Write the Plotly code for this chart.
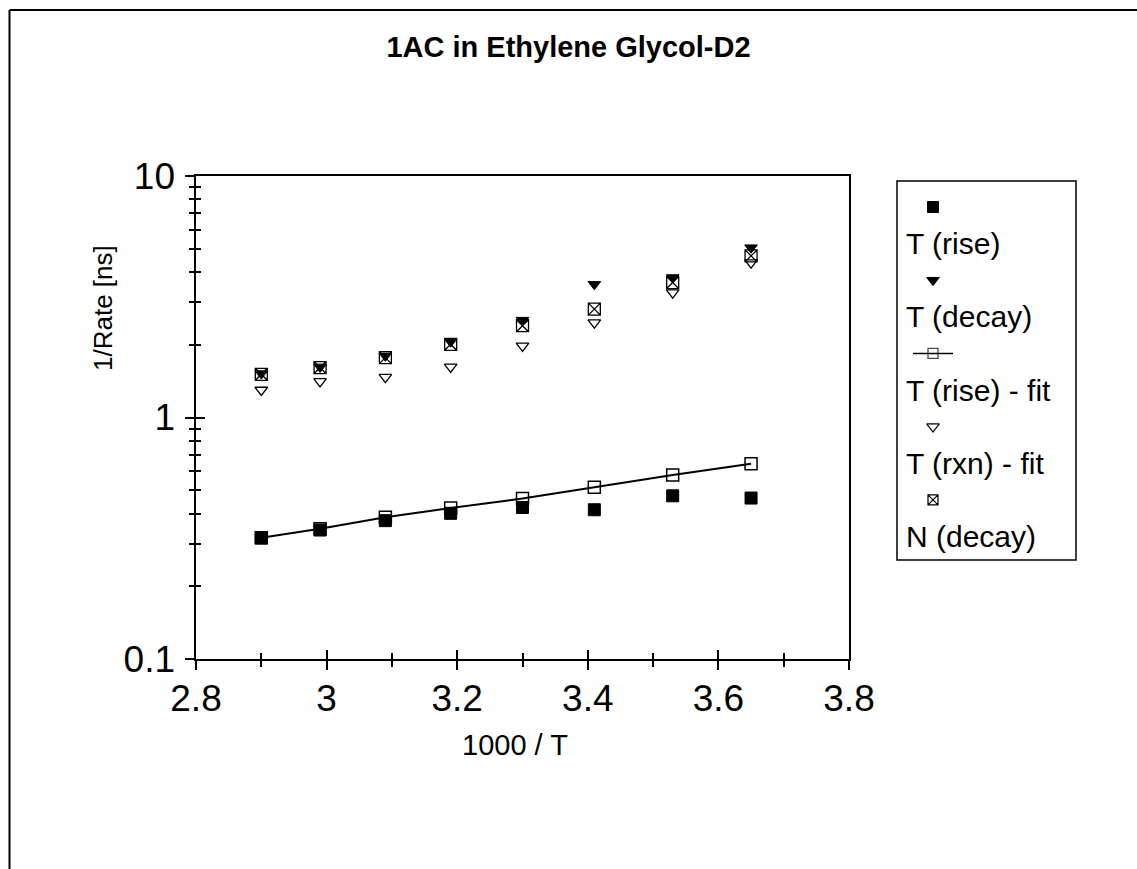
import plotly.graph_objects as go

# ---------------- data ----------------
inv_T = [2.90, 2.99, 3.09, 3.19, 3.30, 3.41, 3.53, 3.65]
t_rise = [0.317, 0.342, 0.374, 0.401, 0.424, 0.415, 0.474, 0.464]
t_decay = [1.52, 1.62, 1.80, 2.06, 2.53, 3.56, 3.80, 5.05]
t_rise_fit = [0.318, 0.346, 0.386, 0.422, 0.462, 0.514, 0.578, 0.643]
t_rxn_fit = [1.30, 1.41, 1.47, 1.62, 1.98, 2.47, 3.29, 4.38]
n_decay = [1.51, 1.61, 1.77, 2.01, 2.40, 2.81, 3.62, 4.67]

series_names = ["T (rise)", "T (decay)", "T (rise) - fit", "T (rxn) - fit", "N (decay)"]
x_ticks = [2.8, 3.0, 3.2, 3.4, 3.6, 3.8]
x_ticktext = ["2.8", "3", "3.2", "3.4", "3.6", "3.8"]
y_ticks = [0.1, 1, 10]
y_ticktext = ["0.1", "1", "10"]
y_minor = [0.2, 0.3, 0.4, 0.5, 0.6, 0.7, 0.8, 0.9, 2, 3, 4, 5, 6, 7, 8, 9]

FONT = "Liberation Sans, Arial, sans-serif"
W, H = 1137, 869

def px_x(p):
    return p / W

def px_y(p):
    return 1 - p / H

# plot area in pixels
PL, PR, PT, PB = 196, 849, 176, 659
xdom = [px_x(PL), px_x(PR)]
ydom = [px_y(PB), px_y(PT)]

fig = go.Figure()

styles = [
    dict(mode="markers", marker=dict(symbol="square", size=12, color="black",
                                      line=dict(color="black", width=1))),
    dict(mode="markers", marker=dict(symbol="triangle-down", size=11, color="black",
                                      line=dict(color="black", width=1))),
    dict(mode="lines+markers", line=dict(color="black", width=2),
         marker=dict(symbol="square-open", size=12, color="black",
                     line=dict(color="black", width=1.5))),
    dict(mode="markers", marker=dict(symbol="triangle-down-open", size=11, color="black",
                                      line=dict(color="black", width=1.3))),
    dict(mode="markers", marker=dict(symbol="square-x-open", size=12, color="black",
                                      line=dict(color="black", width=1.3))),
]
data = [t_rise, t_decay, t_rise_fit, t_rxn_fit, n_decay]

for name, ys, st in zip(series_names, data, styles):
    fig.add_trace(go.Scatter(x=inv_T, y=ys, name=name, showlegend=False,
                             xaxis="x", yaxis="y", **st))

# ---------------- custom legend (symbol above text, as in the original) ----
LL, LR, LT, LB = 897, 1076, 181, 560
sym_x = 36
row = 36.6
leg_styles = [
    dict(mode="markers", marker=dict(symbol="square", size=11, color="black",
                                      line=dict(color="black", width=1))),
    dict(mode="markers", marker=dict(symbol="triangle-down", size=11, color="black",
                                      line=dict(color="black", width=1))),
    dict(mode="lines+markers", line=dict(color="black", width=1.5),
         marker=dict(symbol="square-open", size=10, color="black",
                     line=dict(color="black", width=1.3))),
    dict(mode="markers", marker=dict(symbol="triangle-down-open", size=11, color="black",
                                      line=dict(color="black", width=1.2))),
    dict(mode="markers", marker=dict(symbol="square-x-open", size=10, color="black",
                                      line=dict(color="black", width=1.2))),
]
for i, (name, st) in enumerate(zip(series_names, leg_styles)):
    yy = 26 + 2 * i * row
    if st["mode"] == "lines+markers":
        xs, ys = [sym_x - 20, sym_x, sym_x + 20], [yy, yy, yy]
        st = dict(st)
        st["marker"] = dict(st["marker"])
        st["marker"]["size"] = [0, 10, 0]
    else:
        xs, ys = [sym_x], [yy]
    fig.add_trace(go.Scatter(x=xs, y=ys, showlegend=False, hoverinfo="skip",
                             xaxis="x3", yaxis="y3", **st))
    fig.add_annotation(x=7, y=yy + row, xref="x3", yref="y3", text=name,
                       showarrow=False, xanchor="left", yanchor="middle",
                       font=dict(family=FONT, size=30, color="black"))

axis_common = dict(showgrid=False, zeroline=False, automargin=False)
TICKFONT = dict(family=FONT, size=37, color="black")

fig.update_layout(
    width=W, height=H,
    margin=dict(l=0, r=0, t=0, b=0),
    paper_bgcolor="white", plot_bgcolor="white",
    font=dict(family=FONT, color="black"),
    title=dict(text="1AC in Ethylene Glycol-D2", x=0.5, xanchor="center",
               y=px_y(47), yanchor="middle",
               font=dict(family=FONT, size=29, color="black", weight="bold")),
    # outer half of the crossing ticks + frame
    xaxis=dict(domain=xdom, anchor="y", range=[2.8, 3.8],
               tickvals=x_ticks, showticklabels=False,
               ticks="outside", ticklen=9, tickwidth=1.5, tickcolor="black",
               minor=dict(dtick=0.1, tick0=2.8, ticks="outside", ticklen=6,
                          tickwidth=1.5, tickcolor="black"),
               showline=True, linecolor="black", linewidth=2, mirror=True,
               **axis_common),
    # inner half of the crossing ticks + tick labels
    xaxis2=dict(overlaying="x", anchor="y", range=[2.8, 3.8], side="bottom",
                tickvals=x_ticks, ticktext=x_ticktext, showticklabels=True,
                tickfont=TICKFONT, ticklabelstandoff=14,
                ticks="inside", ticklen=9, tickwidth=1.5, tickcolor="black",
                minor=dict(dtick=0.1, tick0=2.8, ticks="inside", ticklen=6,
                           tickwidth=1.5, tickcolor="black"),
                showline=False, **axis_common),
    yaxis=dict(domain=ydom, anchor="x", type="log", range=[-1, 1],
               tickvals=y_ticks, showticklabels=False,
               ticks="outside", ticklen=9, tickwidth=1.5, tickcolor="black",
               minor=dict(tickvals=y_minor, ticks="outside", ticklen=5,
                          tickwidth=1.5, tickcolor="black"),
               showline=True, linecolor="black", linewidth=2, mirror=True,
               **axis_common),
    yaxis2=dict(overlaying="y", anchor="x", type="log", range=[-1, 1], side="left",
                tickvals=y_ticks, ticktext=y_ticktext, showticklabels=True,
                tickfont=TICKFONT, ticklabelstandoff=20,
                ticks="inside", ticklen=9, tickwidth=1.5, tickcolor="black",
                minor=dict(tickvals=y_minor, ticks="inside", ticklen=5,
                           tickwidth=1.5, tickcolor="black"),
                showline=False, **axis_common),
    xaxis3=dict(domain=[px_x(LL), px_x(LR)], anchor="y3", range=[0, LR - LL],
                visible=False, fixedrange=True),
    yaxis3=dict(domain=[px_y(LB), px_y(LT)], anchor="x3", range=[LB - LT, 0],
                visible=False, fixedrange=True),
    showlegend=False,
)

# dummy trace so the overlay axes are drawn
fig.add_trace(go.Scatter(x=[None], y=[None], xaxis="x2", yaxis="y2",
                         showlegend=False, hoverinfo="skip"))

# axis titles
fig.add_annotation(x=px_x(103), y=px_y(308), xref="paper", yref="paper",
                   text="1/Rate [ns]", textangle=-90, showarrow=False,
                   xanchor="center", yanchor="middle",
                   font=dict(family=FONT, size=26, color="black"))
fig.add_annotation(x=px_x(515), y=px_y(745), xref="paper", yref="paper",
                   text="1000 / T", showarrow=False,
                   xanchor="center", yanchor="middle",
                   font=dict(family=FONT, size=29, color="black"))

# legend box
fig.add_shape(type="rect", xref="paper", yref="paper",
              x0=px_x(LL), x1=px_x(LR), y0=px_y(LB), y1=px_y(LT),
              line=dict(color="black", width=1.5), fillcolor="rgba(0,0,0,0)")

# outer chart-area frame (left and top edges)
fig.add_shape(type="line", xref="paper", yref="paper",
              x0=px_x(9.5), x1=px_x(9.5), y0=0, y1=px_y(10),
              line=dict(color="black", width=2))
fig.add_shape(type="line", xref="paper", yref="paper",
              x0=px_x(9.5), x1=1, y0=px_y(10), y1=px_y(10),
              line=dict(color="black", width=2))

fig.write_html("out.html")
